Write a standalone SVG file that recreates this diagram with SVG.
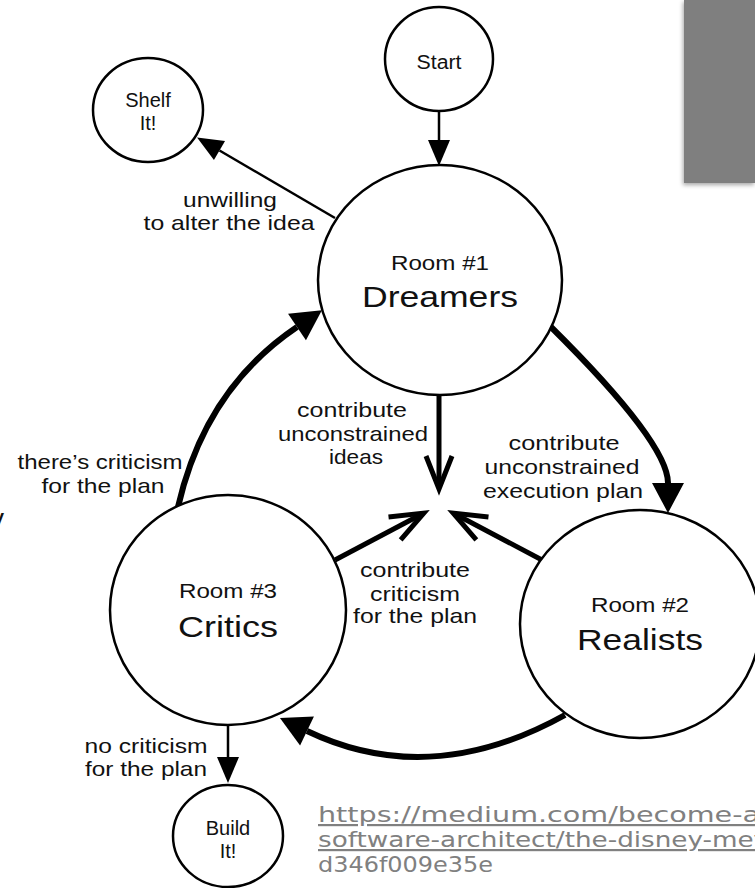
<svg xmlns="http://www.w3.org/2000/svg" width="755" height="888" viewBox="0 0 755 888">
<style>
  .node { fill: #fff; stroke: #000; stroke-width: 2.5; }
  .t { font-family: "Liberation Sans", Arial, sans-serif; fill: #111; text-anchor: middle; }
  .lbl { font-size: 21px; }
  .room { font-size: 21px; }
  .title { font-size: 30px; }
  .small { font-size: 20px; }
  .thin { fill: none; stroke: #000; stroke-width: 2.5; }
  .thick { fill: none; stroke: #000; stroke-width: 6; }
  .mid { fill: none; stroke: #000; stroke-width: 5; }
  .url { font-family: "DejaVu Sans", "Liberation Sans", sans-serif; font-size: 22px; fill: #808080; }
</style>
<defs>
  <filter id="sh" x="-20%" y="-10%" width="140%" height="130%">
    <feDropShadow dx="-1" dy="2" stdDeviation="2" flood-color="#000" flood-opacity="0.35"/>
  </filter>
  <marker id="ahS" markerUnits="userSpaceOnUse" orient="auto" overflow="visible" refX="0" refY="0" markerWidth="30" markerHeight="30">
    <path d="M0,-11 L26,0 L0,11 Z" fill="#000"/>
  </marker>
  <marker id="ahL" markerUnits="userSpaceOnUse" orient="auto" overflow="visible" refX="0" refY="0" markerWidth="32" markerHeight="32">
    <path d="M0,-16 L30,0 L0,16 Z" fill="#000"/>
  </marker>
  <marker id="ahO" markerUnits="userSpaceOnUse" orient="auto" overflow="visible" refX="0" refY="0" markerWidth="40" markerHeight="40">
    <path d="M-31,-13 L2,0 L-31,13" fill="none" stroke="#000" stroke-width="5" stroke-linejoin="miter"/>
  </marker>
</defs>

<rect x="684" y="0" width="71" height="183" fill="#7f7f7f" filter="url(#sh)"/>
<text x="-10" y="528" style="font-family:'Liberation Sans',Arial,sans-serif;font-size:28px;fill:#111">y</text>

<g id="connectors">
  <path class="thin" d="M439,111 L439,140" marker-end="url(#ahS)"/>
  <path class="thin" d="M335,218 L219.5,150.5" marker-end="url(#ahS)"/>
  <path class="thin" d="M228,725 L228,757" marker-end="url(#ahS)"/>
  <path class="thick" d="M551,327 Q668,443 668,483" marker-end="url(#ahL)"/>
  <path class="thick" d="M565,715 Q430,790 307,731" marker-end="url(#ahL)"/>
  <path class="thick" d="M178,507 Q205,389 297,327" marker-end="url(#ahL)"/>
  <path class="mid" d="M439,395 L439,487" marker-end="url(#ahO)"/>
  <path class="mid" d="M335,560 L422,514" marker-end="url(#ahO)"/>
  <path class="mid" d="M542,560 L455,514" marker-end="url(#ahO)"/>
</g>

<g id="start">
  <ellipse class="node" cx="439" cy="59" rx="54" ry="52"/>
  <text class="t small" x="439" y="69" textLength="45" lengthAdjust="spacingAndGlyphs">Start</text>
</g>
<g id="shelf">
  <ellipse class="node" cx="148" cy="110" rx="55" ry="52"/>
  <text class="t small" x="148" y="107">Shelf</text>
  <text class="t small" x="148" y="130">It!</text>
</g>
<g id="dreamers">
  <ellipse class="node" cx="440" cy="280" rx="122" ry="115"/>
  <text class="t room" x="440" y="270" textLength="98" lengthAdjust="spacingAndGlyphs">Room #1</text>
  <text class="t title" x="440" y="307" textLength="156" lengthAdjust="spacingAndGlyphs">Dreamers</text>
</g>
<g id="realists">
  <ellipse class="node" cx="640" cy="624" rx="120" ry="114"/>
  <text class="t room" x="640" y="612" textLength="98" lengthAdjust="spacingAndGlyphs">Room #2</text>
  <text class="t title" x="640" y="650" textLength="126" lengthAdjust="spacingAndGlyphs">Realists</text>
</g>
<g id="critics">
  <ellipse class="node" cx="228" cy="610" rx="118" ry="115"/>
  <text class="t room" x="228" y="598" textLength="98" lengthAdjust="spacingAndGlyphs">Room #3</text>
  <text class="t title" x="228" y="637" textLength="100" lengthAdjust="spacingAndGlyphs">Critics</text>
</g>
<g id="build">
  <ellipse class="node" cx="228" cy="836" rx="55" ry="51"/>
  <text class="t small" x="228" y="835">Build</text>
  <text class="t small" x="228" y="858">It!</text>
</g>

<g id="labels">
  <text class="t lbl" x="230" y="207" textLength="94" lengthAdjust="spacingAndGlyphs">unwilling</text>
  <text class="t lbl" x="229" y="230" textLength="171" lengthAdjust="spacingAndGlyphs">to alter the idea</text>
  <text class="t lbl" x="100" y="469" textLength="165" lengthAdjust="spacingAndGlyphs">there’s criticism</text>
  <text class="t lbl" x="103" y="493" textLength="123" lengthAdjust="spacingAndGlyphs">for the plan</text>
  <text class="t lbl" x="352" y="417" textLength="110" lengthAdjust="spacingAndGlyphs">contribute</text>
  <text class="t lbl" x="353" y="441" textLength="150" lengthAdjust="spacingAndGlyphs">unconstrained</text>
  <text class="t lbl" x="356" y="464" textLength="54" lengthAdjust="spacingAndGlyphs">ideas</text>
  <text class="t lbl" x="564" y="450" textLength="111" lengthAdjust="spacingAndGlyphs">contribute</text>
  <text class="t lbl" x="562" y="474" textLength="155" lengthAdjust="spacingAndGlyphs">unconstrained</text>
  <text class="t lbl" x="563" y="498" textLength="160" lengthAdjust="spacingAndGlyphs">execution plan</text>
  <text class="t lbl" x="415" y="577" textLength="110" lengthAdjust="spacingAndGlyphs">contribute</text>
  <text class="t lbl" x="415" y="601" textLength="90" lengthAdjust="spacingAndGlyphs">criticism</text>
  <text class="t lbl" x="415" y="623" textLength="124" lengthAdjust="spacingAndGlyphs">for the plan</text>
  <text class="t lbl" x="146" y="753" textLength="123" lengthAdjust="spacingAndGlyphs">no criticism</text>
  <text class="t lbl" x="146" y="776" textLength="122" lengthAdjust="spacingAndGlyphs">for the plan</text>
</g>

<g id="url">
  <text class="url" x="318" y="822" textLength="442" lengthAdjust="spacingAndGlyphs" text-decoration="underline">https://medium.com/become-a</text>
  <text class="url" x="318" y="847" textLength="446" lengthAdjust="spacingAndGlyphs" text-decoration="underline">software-architect/the-disney-met</text>
  <text class="url" x="318" y="872" textLength="175" lengthAdjust="spacingAndGlyphs">d346f009e35e</text>
</g>
</svg>
